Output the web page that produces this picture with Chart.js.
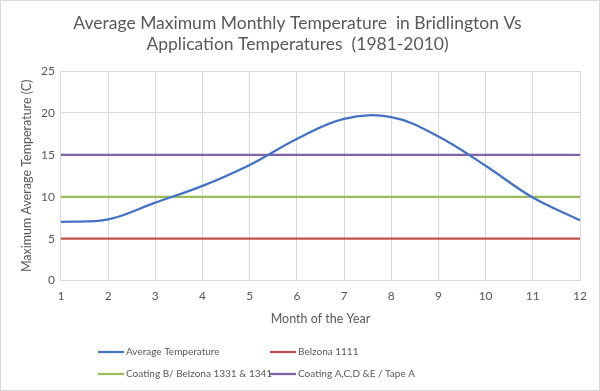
<!DOCTYPE html>
<html lang="en">
<head>
    <meta charset="UTF-8">
    <title>Bridlington temperatures</title>
    <script src="https://cdn.jsdelivr.net/npm/chart.js"></script>
    <style>
        body { margin: 0; background: #fff; }
        #caixa { width: 598px; height: 389px; border: 1px solid #d9d9d9; }
    </style>
</head>
<body>
    <div id="caixa">
        <canvas id="grafico1"></canvas>
    </div>

    <script>
        const meses = ["1","2","3","4","5","6","7","8","9","10","11","12"]
        const mediaTemp = [7.0, 7.3, 9.3, 11.3, 13.8, 16.9, 19.3, 19.5, 17.2, 13.7, 9.9, 7.2]
        const belzona1111 = [5,5,5,5,5,5,5,5,5,5,5,5]
        const coatingB = [10,10,10,10,10,10,10,10,10,10,10,10]
        const coatingACDE = [15,15,15,15,15,15,15,15,15,15,15,15]
        const ticksY = [0, 5, 10, 15, 20, 25]

        const cinza = '#595959'
        const fonte = 'Lato, "Liberation Sans", sans-serif'

        // legenda em grade de 2 colunas, como no Excel
        const legendaGrade = {
          id: 'legendaGrade',
          afterDraw(chart) {
            const c = chart.ctx
            const colunas = [97, 269]
            const linhas = [351, 373]
            c.save()
            c.font = '10px ' + fonte
            c.textBaseline = 'middle'
            chart.data.datasets.forEach((ds, i) => {
              const x = colunas[i % 2]
              const y = linhas[Math.floor(i / 2)]
              c.strokeStyle = ds.borderColor
              c.lineWidth = 2.25
              c.beginPath()
              c.moveTo(x, y)
              c.lineTo(x + 26, y)
              c.stroke()
              c.fillStyle = cinza
              c.fillText(ds.label, x + 28, y)
            })
            c.restore()
          }
        }

        const ctx = document.getElementById('grafico1')

        let grafico1 = new Chart(ctx, {
          type: 'line',
          data: {
            labels: meses,
            datasets: [
              { label: 'Average Temperature', data: mediaTemp, borderColor: '#4472C4', backgroundColor: '#4472C4', borderWidth: 2.25, tension: 0.38, pointRadius: 0 },
              { label: 'Belzona 1111', data: belzona1111, borderColor: '#C0504D', backgroundColor: '#C0504D', borderWidth: 2.25, pointRadius: 0 },
              { label: 'Coating B/ Belzona 1331 & 1341', data: coatingB, borderColor: '#9BBB59', backgroundColor: '#9BBB59', borderWidth: 2.25, pointRadius: 0 },
              { label: 'Coating A,C,D &E / Tape A', data: coatingACDE, borderColor: '#8064A2', backgroundColor: '#8064A2', borderWidth: 2.25, pointRadius: 0 }
            ]
          },
          options: {
            responsive: true,
            maintainAspectRatio: false,
            animation: false,
            layout: { padding: { left: 14, right: 19, top: 12, bottom: 64 } },
            plugins: {
              title: {
                display: true,
                text: ['Average Maximum Monthly Temperature  in Bridlington Vs', 'Application Temperatures  (1981-2010)'],
                color: cinza,
                font: { family: fonte, size: 17.5, weight: 'normal' },
                lineHeight: 1.45,
                padding: { top: 0, bottom: 16 }
              },
              legend: { display: false },
              tooltip: { enabled: false }
            },
            scales: {
              x: {
                offset: false,
                grid: { color: '#d9d9d9', drawTicks: false },
                border: { color: '#d9d9d9' },
                ticks: { color: cinza, font: { family: fonte, size: 12 }, padding: 8, maxRotation: 0 },
                title: { display: true, text: 'Month of the Year', color: cinza, font: { family: fonte, size: 12.5 }, padding: { top: 0, bottom: 0 } }
              },
              y: {
                min: 0,
                max: 25,
                afterBuildTicks: eixo => { eixo.ticks = ticksY.map(v => ({ value: v })) },
                grid: { color: '#d9d9d9', drawTicks: false },
                border: { display: false },
                ticks: { color: cinza, font: { family: fonte, size: 12 }, padding: 6 },
                title: { display: true, text: 'Maximum Average Temperature (C)', color: cinza, font: { family: fonte, size: 12.5 }, padding: { bottom: 1 } }
              }
            }
          },
          plugins: [legendaGrade]
        })
    </script>
</body>
</html>
